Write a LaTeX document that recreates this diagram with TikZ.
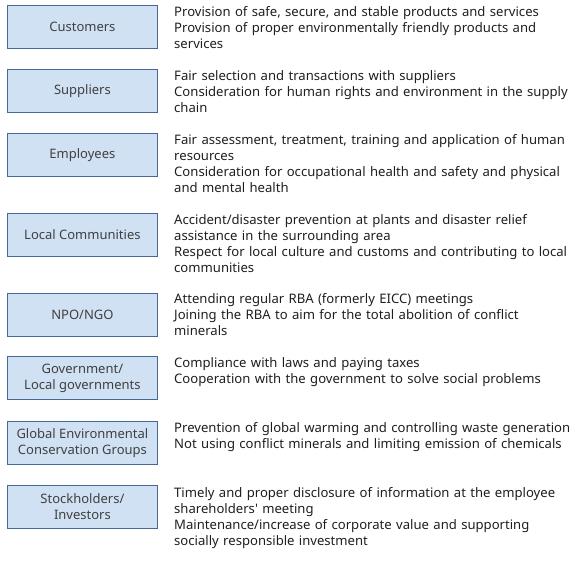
\documentclass[tikz,border=0pt]{standalone}
\usepackage{fontspec}
\setmainfont{Noto Sans}
\definecolor{boxfill}{RGB}{208,225,243}
\definecolor{boxline}{RGB}{70,106,150}
\definecolor{txt}{RGB}{30,30,30}
\begin{document}
\begin{tikzpicture}[x=1pt,y=-1pt,
  stkbox/.style={draw=boxline,fill=boxfill,line width=0.8pt,minimum width=150pt,minimum height=43pt,
    inner sep=0pt,align=center,text=txt!85,font=\fontsize{13}{16}\selectfont,anchor=north west},
  desc/.style={anchor=north west,inner sep=0pt,align=left,text width=415pt,text=txt,
    font=\fontsize{13.1}{16}\selectfont}]
\useasboundingbox (0,0) rectangle (585,570);
\newcommand\fl{\rule{0pt}{10pt}}
\node[stkbox] (b1) at (7,5) {Customers};
\node[stkbox] (b2) at (7,69) {Suppliers};
\node[stkbox] (b3) at (7,133) {Employees};
\node[stkbox] (b4) at (7,213) {Local Communities};
\node[stkbox] (b5) at (7,293) {NPO/NGO};
\node[stkbox] (b6) at (7,356) {Government/\\Local governments};
\node[stkbox] (b7) at (7,421) {Global Environmental\\Conservation Groups};
\node[stkbox] (b8) at (7,485) {Stockholders/\\Investors};
\node[desc] (t1) at (174,6) {\fl Provision of safe, secure, and stable products and services\\Provision of proper environmentally friendly products and\\services};
\node[desc] (t2) at (174,70) {\fl Fair selection and transactions with suppliers\\Consideration for human rights and environment in the supply\\chain};
\node[desc] (t3) at (174,134) {\fl Fair assessment, treatment, training and application of human\\resources\\Consideration for occupational health and safety and physical\\and mental health};
\node[desc] (t4) at (174,214) {\fl Accident/disaster prevention at plants and disaster relief\\assistance in the surrounding area\\Respect for local culture and customs and contributing to local\\communities};
\node[desc] (t5) at (174,293) {\fl Attending regular RBA (formerly EICC) meetings\\Joining the RBA to aim for the total abolition of conflict\\minerals};
\node[desc] (t6) at (174,357) {\fl Compliance with laws and paying taxes\\Cooperation with the government to solve social problems};
\node[desc] (t7) at (174,422) {\fl Prevention of global warming and controlling waste generation\\Not using conflict minerals and limiting emission of chemicals};
\node[desc] (t8) at (174,487) {\fl Timely and proper disclosure of information at the employee\\shareholders\textquotesingle\ meeting\\Maintenance/increase of corporate value and supporting\\socially responsible investment};
\end{tikzpicture}
\end{document}
